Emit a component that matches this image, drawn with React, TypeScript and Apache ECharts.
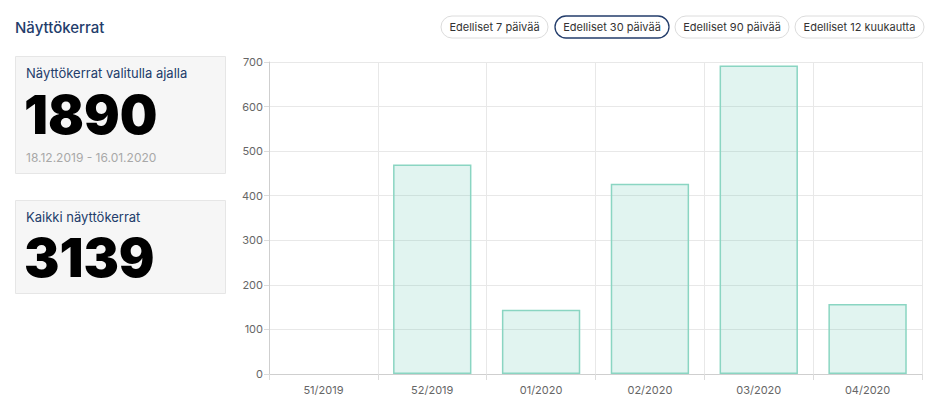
import React, { useEffect, useRef } from "react";
import * as echarts from "echarts";

const categories = ["51/2019", "52/2019", "01/2020", "02/2020", "03/2020", "04/2020"];
const views = [0, 470, 144, 427, 692, 157];
const periodButtons = ["Edelliset 7 päivää", "Edelliset 30 päivää", "Edelliset 90 päivää", "Edelliset 12 kuukautta"];
const selectedButton = 1;
const pageTitle = "Näyttökerrat";
const periodCardTitle = "Näyttökerrat valitulla ajalla";
const periodTotal = "1890";
const periodRange = "18.12.2019 - 16.01.2020";
const allCardTitle = "Kaikki näyttökerrat";
const allTotal = "3139";

const FONT = "Inter, 'Liberation Sans', sans-serif";
const NAVY = "#233d6b";

export default function App() {
  const ref = useRef<HTMLDivElement>(null);
  useEffect(() => {
    if (!ref.current) return;
    const chart = echarts.init(ref.current, undefined, { renderer: "svg" });
    const btnPos = [
      [441, 107],
      [555, 114],
      [675, 114],
      [795, 129],
    ];
    const buttons: any[] = periodButtons.map((label, i) => ({
      type: "group",
      x: btnPos[i][0],
      y: 16,
      children: [
        {
          type: "rect",
          shape: { x: 0, y: 0, width: btnPos[i][1], height: 22, r: 11 },
          style: {
            fill: "#fff",
            stroke: i === selectedButton ? NAVY : "#dcdcdc",
            lineWidth: i === selectedButton ? 1.3 : 1,
          },
        },
        {
          type: "text",
          x: btnPos[i][1] / 2,
          y: 11,
          style: {
            text: label,
            fill: "#333",
            font: `11px ${FONT}`,
            align: "center",
            verticalAlign: "middle",
          },
        },
      ],
    }));
    const card = (y: number, h: number) => ({
      type: "rect",
      shape: { x: 15.5, y: y + 0.5, width: 210, height: h },
      style: { fill: "#f6f6f6", stroke: "#e6e6e6", lineWidth: 1 },
    });
    const txt = (x: number, y: number, text: string, font: string, fill: string) => ({
      type: "text",
      x,
      y,
      style: { text, font, fill, verticalAlign: "middle" },
    });
    chart.setOption({
      animation: false,
      grid: { left: 269, right: 19, top: 62, bottom: 39, containLabel: false },
      xAxis: {
        type: "category",
        data: categories,
        axisLine: { lineStyle: { color: "#cfcfcf" } },
        axisTick: { show: true, length: 6, lineStyle: { color: "#dcdcdc" } },
        splitLine: { show: true, lineStyle: { color: "#e8e8e8" } },
        axisLabel: { color: "#666", fontSize: 11, fontFamily: FONT, margin: 10 },
      },
      yAxis: {
        type: "value",
        min: 0,
        max: 700,
        interval: 100,
        axisLine: { show: true, lineStyle: { color: "#cfcfcf" } },
        axisTick: { show: true, length: 5, lineStyle: { color: "#dcdcdc" } },
        splitLine: { show: true, lineStyle: { color: "#e8e8e8" } },
        axisLabel: { color: "#666", fontSize: 11, fontFamily: FONT, margin: 6 },
      },
      series: [
        {
          type: "bar",
          data: views.map((v) => (v === 0 ? { value: v, itemStyle: { borderWidth: 0 } } : v)),
          barCategoryGap: "28%",
          itemStyle: {
            color: "rgba(90, 196, 170, 0.18)",
            borderColor: "#8ad5c2",
            borderWidth: 1.5,
          },
        },
      ],
      graphic: [
        txt(15, 27, pageTitle, `500 15px ${FONT}`, NAVY),
        ...buttons,
        card(56, 117),
        txt(26, 73, periodCardTitle, `13px ${FONT}`, NAVY),
        txt(24, 115, periodTotal, `900 53px ${FONT}`, "#000"),
        txt(26, 157, periodRange, `12px ${FONT}`, "#a8a8a8"),
        card(200, 93),
        txt(26, 217, allCardTitle, `13px ${FONT}`, NAVY),
        txt(24, 258, allTotal, `900 53px ${FONT}`, "#000"),
      ],
    });
    return () => chart.dispose();
  }, []);
  return (
    <div
      ref={ref}
      style={{ position: "fixed", left: 0, top: 0, width: 941, height: 413, background: "#fff" }}
    />
  );
}
